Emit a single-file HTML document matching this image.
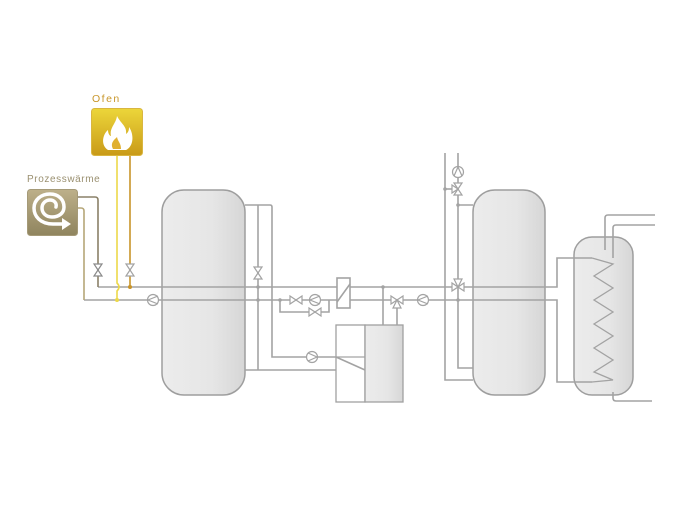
<!DOCTYPE html>
<html><head><meta charset="utf-8"><style>
html,body{margin:0;padding:0;background:#fff;}
svg{display:block;}
</style></head><body>
<svg width="689" height="515" viewBox="0 0 689 515" xmlns="http://www.w3.org/2000/svg">
<defs>
<linearGradient id="tank" x1="0" x2="1" y1="0" y2="0">
<stop offset="0" stop-color="#ececec"/><stop offset="0.6" stop-color="#e6e6e6"/><stop offset="1" stop-color="#d6d6d6"/>
</linearGradient>
<linearGradient id="ofen" x1="0" x2="0" y1="0" y2="1">
<stop offset="0" stop-color="#ecd63a"/><stop offset="1" stop-color="#c99a18"/>
</linearGradient>
<linearGradient id="proz" x1="0" x2="0" y1="0" y2="1">
<stop offset="0" stop-color="#bdb08a"/><stop offset="1" stop-color="#8f845e"/>
</linearGradient>
</defs>

<text x="92" y="102" font-family="Liberation Sans, sans-serif" font-size="10.5" letter-spacing="1.5" fill="#c8962a">Ofen</text>
<text x="27" y="182" font-family="Liberation Sans, sans-serif" font-size="10" letter-spacing="0.6" fill="#9a9070">Prozesswärme</text>

<rect x="162" y="190" width="83" height="205" rx="22" fill="url(#tank)" stroke="#9e9e9e" stroke-width="1.5"/>
<rect x="473" y="190" width="72" height="205" rx="22" fill="url(#tank)" stroke="#9e9e9e" stroke-width="1.5"/>
<rect x="574" y="237" width="59" height="158" rx="18" fill="url(#tank)" stroke="#9e9e9e" stroke-width="1.5"/>

<rect x="336" y="325" width="29" height="77" fill="#fff" stroke="#a0a0a0" stroke-width="1.3"/>
<rect x="365" y="325" width="38" height="77" fill="url(#tank)" stroke="#a0a0a0" stroke-width="1.3"/>

<g fill="none" stroke="#a3a3a3" stroke-width="1.6">
<path d="M98 287 H557 V258 H592"/>
<path d="M84 300 H557 V382 H592"/>
<path d="M245 205 H270 Q272 205 272 207 V357 H336"/>
<path d="M258 205 V370"/>
<path d="M245 370 H336"/>
<path d="M336 357 L365 370"/>
<path d="M280 300 V312 H329 V300"/>
<rect x="337" y="278" width="13" height="30" fill="#fff"/>
<path d="M337 302 L350 284"/>
<path d="M383 287 V325"/>
<path d="M397 300 V325"/>
<path d="M445 153 V380 H473"/>
<path d="M458 153 V205 H473"/>
<path d="M458 205 V368 H473"/>
<path d="M445 189 H452"/>
<path d="M605 250 V218 Q605 215 608 215 H655"/>
<path d="M613 258 V228 Q613 225 616 225 H655"/>
<path d="M613 392 V398 Q613 401 616 401 H652"/>
<path d="M592 258 L613 264 L594 276 L613 288 L594 300 L613 312 L594 324 L613 336 L594 348 L613 360 L594 372 L613 380 L592 382" stroke-width="1.3"/>
</g>
<line x1="336" y1="357" x2="365" y2="357" stroke="#a3a3a3" stroke-width="1.3"/>

<g fill="none" stroke-width="1.6">
<path d="M78 197 H95 Q98 197 98 200 V287" stroke="#8a8068"/>
<path d="M78 208 H81 Q84 208 84 211 V300" stroke="#b5a678"/>
<path d="M117 156 V283 Q121 287 117 291 V300" stroke="#ecd84a"/>
<path d="M130 156 V287" stroke="#c8942a"/>
</g>
<circle cx="117" cy="300" r="2" fill="#ecd84a"/>
<circle cx="130" cy="287" r="2" fill="#c8942a"/>

<g fill="#fff" stroke="#a3a3a3" stroke-width="1.2">
<path d="M94 264 H102 L98 270 Z M94 276 H102 L98 270 Z" stroke="#8a8a8a"/>
<path d="M126 264 H134 L130 270 Z M126 276 H134 L130 270 Z"/>
<path d="M254 267 H262 L258 273 Z M254 279 H262 L258 273 Z"/>
<path d="M290 296 V304 L296 300 Z M302 296 V304 L296 300 Z"/>
<path d="M309 308 V316 L315 312 Z M321 308 V316 L315 312 Z"/>
<path d="M391 296 V304 L397 300 Z M403 296 V304 L397 300 Z M393 308 H401 L397 300 Z"/>
<path d="M452 283 V291 L458 287 Z M464 283 V291 L458 287 Z M454 279 H462 L458 287 Z"/>
<path d="M454 183 H462 L458 189 Z M454 195 H462 L458 189 Z M452 185 V193 L458 189 Z"/>
<circle cx="153" cy="300" r="5.5"/>
<circle cx="315" cy="300" r="5.5"/>
<circle cx="312" cy="357" r="5.5"/>
<circle cx="423" cy="300" r="5.5"/>
<circle cx="458" cy="172" r="5.5"/>
</g>
<g fill="none" stroke="#a3a3a3" stroke-width="1.2">
<path d="M158 296 L148 300 L158 304"/>
<path d="M320 296 L310 300 L320 304"/>
<path d="M308 353 L317 357 L308 361"/>
<path d="M428 296 L418 300 L428 304"/>
<path d="M454 176 L458 167 L462 176"/>
</g>
<g fill="#a3a3a3">
<circle cx="258" cy="287" r="1.8"/><circle cx="258" cy="300" r="1.8"/>
<circle cx="383" cy="287" r="1.8"/><circle cx="445" cy="189" r="1.8"/>
<circle cx="458" cy="205" r="1.8"/><circle cx="458" cy="300" r="1.8"/>
<circle cx="280" cy="300" r="1.8"/>
</g>

<rect x="91.5" y="108.5" width="51" height="47" rx="3" fill="url(#ofen)" stroke="#d9b640" stroke-width="1"/>
<path d="M117 116 C121 124 127 126 126 134 C129 132 129 129 129 127 C134 134 134 146 126 150 H108 C100 145 103 134 108 130 C108 134 110 136 111 136 C109 128 116 124 117 116 Z" fill="#fff"/>
<path d="M113 149 C110 143 114 140 117 137 C118 142 121 143 121 149 Z" fill="#e0b030"/>

<rect x="27.5" y="189.5" width="50" height="46" rx="3" fill="url(#proz)" stroke="#a59a78" stroke-width="1"/>
<g fill="none" stroke="#fff" stroke-linecap="round">
<path d="M64 224 H53 C40 224 34 216 34 208 C34 200 41 194 50 194 C59 194 64 200 64 207 C64 213 59 217 52 217 C46 217 42 213 42 208 C42 203 46 200 50 200 C54 200 57 203 56 207" stroke-width="3.5"/>
</g>
<path d="M62 218 L71 224 L62 230 Z" fill="#fff"/>
</svg>
</body></html>
